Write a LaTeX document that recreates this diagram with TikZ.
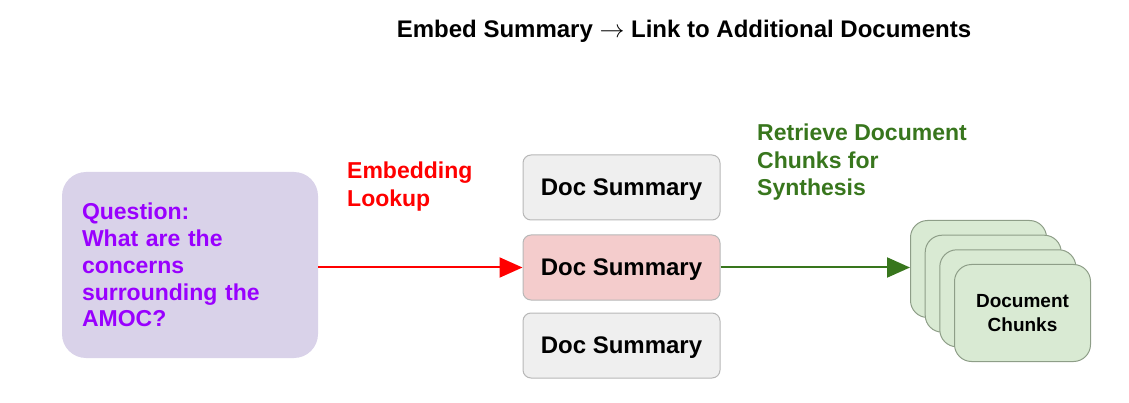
\documentclass[tikz,border=0pt]{standalone}
\usepackage{fontspec}
\setmainfont{Liberation Sans}
\usetikzlibrary{arrows.meta}
\definecolor{qfill}{HTML}{D9D2E9}
\definecolor{qtext}{HTML}{9900FF}
\definecolor{dsfill}{HTML}{EFEFEF}
\definecolor{dsborder}{HTML}{B7B7B7}
\definecolor{dshl}{HTML}{F4CCCC}
\definecolor{chfill}{HTML}{D9EAD3}
\definecolor{chborder}{HTML}{8E9E88}
\definecolor{gtext}{HTML}{38761D}
\definecolor{rtext}{HTML}{FF0000}
\tikzset{
  qbox/.style={rectangle, rounded corners=24pt, fill=qfill, draw=none,
    minimum width=256pt, minimum height=186pt, text width=216pt, align=left,
    inner xsep=20pt, inner ysep=0pt, text=qtext,
    font=\fontsize{23}{26.8}\selectfont\bfseries},
  dsbox/.style={rectangle, rounded corners=8pt, fill=dsfill, draw=dsborder, line width=1pt,
    minimum width=197pt, minimum height=65pt, inner sep=0pt, text depth=0pt,
    font=\fontsize{24}{28}\selectfont\bfseries},
  chbox/.style={rectangle, rounded corners=17pt, fill=chfill, draw=chborder, line width=1pt,
    minimum width=136pt, minimum height=97pt, inner sep=0pt, align=center,
    font=\fontsize{19}{24}\selectfont\bfseries},
  lbl/.style={anchor=north west, inner sep=0pt, align=left,
    font=\fontsize{23}{27.5}\selectfont\bfseries},
  conn/.style={line width=2pt, -{Triangle[length=23pt,width=20pt]}},
}
\begin{document}
\begin{tikzpicture}[x=1pt,y=-1pt]
\useasboundingbox (0,0) rectangle (1129,403);
\node[anchor=north, inner sep=0pt, font=\fontsize{24}{28}\selectfont\bfseries] (title) at (684,20)
  {Embed Summary $\rightarrow$ Link to Additional Documents};
\node[qbox] (q) at (190,265) {Question:\\What are the\\concerns\\surrounding the\\AMOC?};
\node[dsbox] (ds1) at (621.5,187.5) {Doc Summary};
\node[dsbox, fill=dshl] (ds2) at (621.5,267.5) {Doc Summary};
\node[dsbox] (ds3) at (621.5,345.5) {Doc Summary};
\node[chbox, anchor=north west] (ch1) at (910,220) {};
\node[chbox, anchor=north west] (ch2) at (924.7,234.7) {};
\node[chbox, anchor=north west] (ch3) at (939.3,249.3) {};
\node[chbox, anchor=north west] (ch4) at (954,264) {Document\\Chunks};
\node[lbl, text=rtext] (l1) at (347,162) {Embedding\\Lookup};
\node[lbl, text=gtext] (l2) at (757,124) {Retrieve Document\\Chunks for\\Synthesis};
\draw[conn, rtext] (q.east |- ds2.west) -- (ds2.west);
\draw[conn, gtext] (ds2.east) -- (ds2.east -| ch1.west);
\end{tikzpicture}
\end{document}
